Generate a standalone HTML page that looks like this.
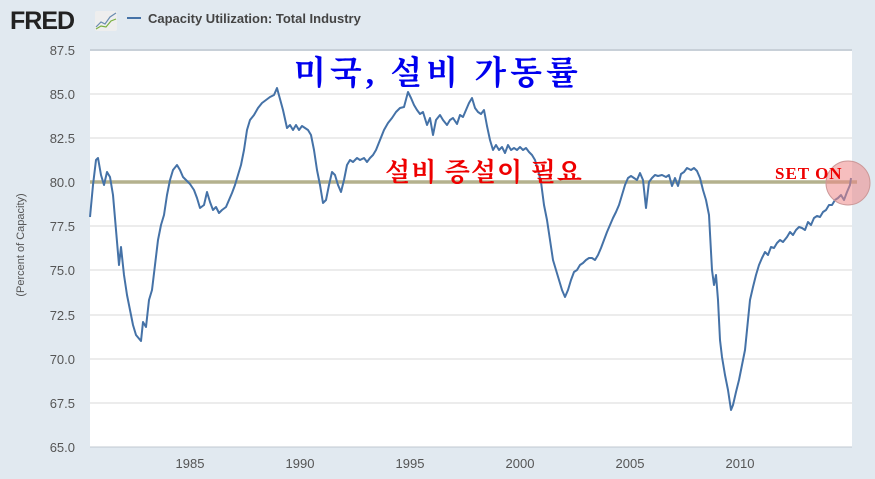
<!DOCTYPE html>
<html><head><meta charset="utf-8"><style>
body{margin:0;background:#e1e9f0;}
svg{display:block}
</style></head><body>
<svg width="875" height="479" xmlns="http://www.w3.org/2000/svg" font-family="Liberation Sans, sans-serif">
<rect width="875" height="479" fill="#e1e9f0"/>
<rect x="90" y="50" width="762" height="397" fill="#fff"/>
<g stroke="#d8d8d8" stroke-width="1">
<line x1="90" x2="852" y1="94" y2="94"/><line x1="90" x2="852" y1="138" y2="138"/>
<line x1="90" x2="852" y1="226" y2="226"/><line x1="90" x2="852" y1="270" y2="270"/>
<line x1="90" x2="852" y1="315" y2="315"/><line x1="90" x2="852" y1="359" y2="359"/>
<line x1="90" x2="852" y1="403" y2="403"/>
</g>
<line x1="90" x2="852" y1="50" y2="50" stroke="#c8d0d8" stroke-width="2"/>
<line x1="90" x2="852" y1="447" y2="447" stroke="#c0c8d0" stroke-width="1"/>
<g font-size="13" fill="#555" text-anchor="end">
<text x="75" y="55">87.5</text><text x="75" y="99">85.0</text><text x="75" y="143">82.5</text>
<text x="75" y="187">80.0</text><text x="75" y="231">77.5</text><text x="75" y="275">75.0</text>
<text x="75" y="320">72.5</text><text x="75" y="364">70.0</text><text x="75" y="408">67.5</text>
<text x="75" y="452">65.0</text>
</g>
<g font-size="13" fill="#555" text-anchor="middle">
<text x="190" y="468">1985</text><text x="300" y="468">1990</text><text x="410" y="468">1995</text>
<text x="520" y="468">2000</text><text x="630" y="468">2005</text><text x="740" y="468">2010</text>
</g>
<text transform="translate(24,245) rotate(-90)" font-size="11" fill="#555" text-anchor="middle">(Percent of Capacity)</text>
<text x="10" y="29" font-size="25" font-weight="bold" fill="#222" letter-spacing="-1">FRED</text>
<rect x="95" y="11" width="22" height="20" fill="#eee" rx="2"/>
<polyline points="96,27 101,22 105,24 110,17 116,13" fill="none" stroke="#6a8cb0" stroke-width="1.2"/>
<polyline points="96,29 101,26 106,27 111,21 116,19" fill="none" stroke="#7ab040" stroke-width="1.2"/>
<line x1="127" x2="141" y1="18" y2="18" stroke="#4572a7" stroke-width="2"/>
<text x="148" y="23" font-size="13" font-weight="bold" fill="#444">Capacity Utilization: Total Industry</text>
<line x1="90" x2="857" y1="182" y2="182" stroke="#a8a47a" stroke-width="3.5" opacity="0.85"/>
<polyline fill="none" stroke="#4572a7" stroke-width="2" stroke-linejoin="round" points="90,217 93,185 96,160 98,158 101,175 104,185 107,172 110,177 113,195 116,230 119,265 121,247 124,275 127,295 130,310 133,325 136,335 141,341 143,322 146,327 149,300 152,290 155,265 158,240 161,225 164,215 167,195 170,180 173,170 177,165 180,170 183,177 186,180 190,184 194,190 197,198 200,208 204,205 207,192 210,202 213,210 216,207 219,213 222,210 226,207 229,200 232,193 235,185 238,175 241,165 244,150 247,130 250,120 254,115 258,108 262,103 266,100 270,97 274,95 277,88 280,99 283,110 287,128 290,125 293,130 296,125 299,130 302,126 305,128 308,130 311,135 314,150 317,170 320,185 323,203 326,200 329,185 332,172 335,175 338,185 341,192 344,180 347,165 350,160 353,162 357,158 360,160 364,158 367,162 370,158 373,155 376,150 380,140 384,130 388,123 392,118 396,112 400,108 404,107 408,92 411,98 414,105 417,110 420,114 423,112 427,125 430,118 433,135 436,120 440,115 443,120 447,125 450,120 453,118 457,124 460,115 463,117 466,110 469,103 472,98 475,108 478,112 481,114 484,110 487,126 490,140 493,150 496,145 499,150 502,147 505,153 508,145 511,150 514,148 517,150 520,147 523,150 526,148 529,152 532,155 535,160 538,170 541,182 544,205 547,220 550,240 553,260 556,270 559,280 562,290 565,297 568,290 571,280 574,272 577,270 580,265 583,263 586,260 589,258 592,258 595,260 598,255 601,248 604,240 607,232 610,225 613,218 616,212 619,205 622,195 625,185 628,178 631,176 634,178 637,180 640,173 643,180 646,208 649,182 652,178 655,175 658,176 662,175 666,177 669,175 672,186 675,178 678,186 681,174 684,172 687,168 691,170 694,168 697,171 700,178 703,190 706,200 709,215 712,270 714,285 716,275 718,300 720,340 722,357 725,375 728,390 731,410 733,405 736,392 739,380 742,365 745,350 748,320 750,300 753,287 756,275 759,265 762,258 765,252 768,255 771,247 774,248 777,243 780,240 783,242 787,237 790,232 793,235 796,230 799,227 802,228 805,230 808,222 811,225 814,218 817,216 820,217 823,212 826,210 829,205 832,205 835,200 838,198 841,195 844,200 847,192 850,185 851,178"/>
<circle cx="848" cy="183" r="22" fill="#e88" fill-opacity="0.55" stroke="#c99" stroke-width="1"/>
<text x="294" y="84" font-size="33" font-weight="bold" fill="#0000ee" font-family="Liberation Serif, Noto Serif CJK SC, serif" letter-spacing="4">미국, 설비 가동률</text>
<text x="385" y="181" font-size="26" font-weight="bold" fill="#ee0000" font-family="Liberation Serif, Noto Serif CJK SC, serif" letter-spacing="1">설비 증설이 필요</text>
<text x="775" y="179" font-size="17" font-weight="bold" fill="#ee0000" font-family="Liberation Serif, serif" letter-spacing="1">SET ON</text>
</svg>
</body></html>
